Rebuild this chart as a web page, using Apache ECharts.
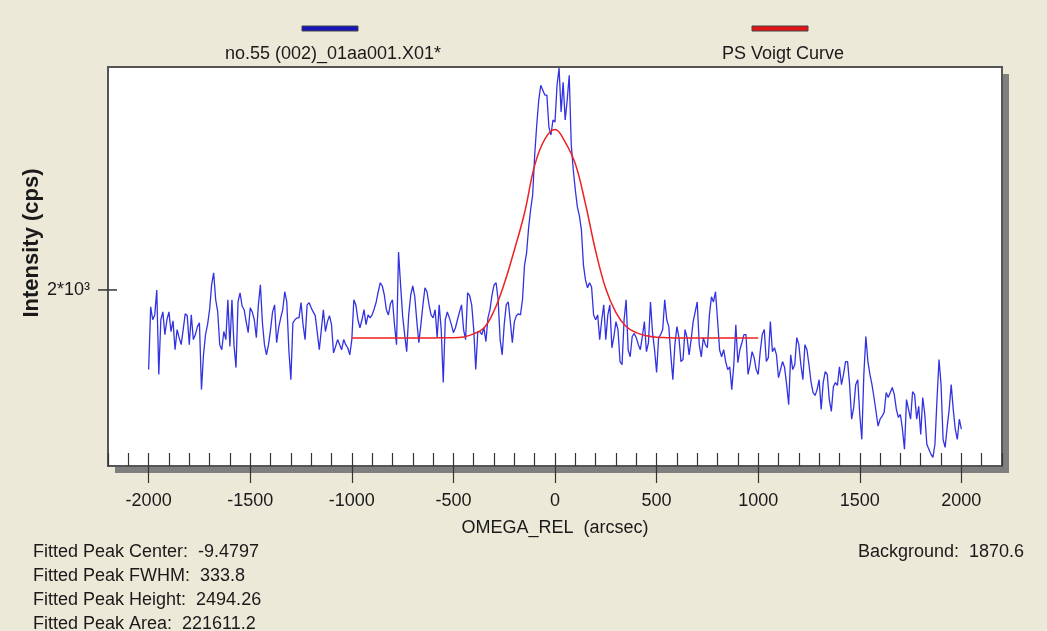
<!DOCTYPE html>
<html>
<head>
<meta charset="utf-8">
<script src="https://cdn.jsdelivr.net/npm/echarts@6/dist/echarts.min.js"></script>
<style>
  html, body { margin: 0; padding: 0; background: #ece9d8; }
  #chart { width: 1047px; height: 631px; }
</style>
</head>
<body>
<div id="chart"></div>
<script>
// measured scan, OMEGA_REL from -2000 to 2000 arcsec every 10
const scanStart = -2000, scanStep = 10;
const intensity = [
  1791,1954,1919,1932,2000,1779,1919,1940,1880,1919,1940,1888,1916,1841,1893,1872,1854,1893,1935,1930,
  1854,1932,1867,1880,1901,1911,1742,1828,1880,1906,1946,2014,2048,1973,1940,1854,1841,1888,1867,1973,
  1849,1973,1854,1796,1967,1992,1956,1946,1914,1885,1951,1940,1919,1872,1959,2014,1911,1854,1828,1854,
  1893,1940,1959,1859,1898,1924,1946,1995,1967,1841,1766,1911,1919,1924,1924,1965,1906,1867,1959,1965,
  1951,1940,1930,1885,1841,1893,1946,1888,1914,1930,1906,1833,1849,1867,1854,1841,1867,1854,1846,1828,
  1867,1973,1959,1919,1898,1919,1946,1906,1932,1924,1932,1948,1967,1995,2020,2011,1986,1946,1932,1962,
  1973,1906,1854,2108,2014,1930,1880,1836,1932,1986,2011,1981,1914,1859,1906,1959,2006,1995,1959,1932,
  1924,1946,1872,1959,1893,1759,1919,1940,1924,1906,1885,1898,1919,1940,1959,1893,1867,1992,1984,1959,
  1893,1791,1888,1888,1880,1898,1862,1924,1946,1986,2014,2020,1973,1867,1828,1906,1959,1967,1914,1859,
  1914,1930,1935,1932,1973,2070,2105,2179,2235,2281,2411,2513,2602,2656,2638,2620,2620,2506,2479,2531,
  2524,2656,2720,2559,2667,2531,2602,2693,2445,2362,2297,2244,2216,2173,2070,2028,2006,2020,2008,1932,
  1919,1932,1867,1919,1959,1867,1932,1959,1846,1875,1914,1893,1811,1803,1919,1973,1841,1823,1875,1883,
  1872,1854,1841,1875,1914,1836,1859,1967,1885,1841,1784,1872,1880,1893,1973,1919,1901,1828,1766,1854,
  1901,1872,1811,1816,1893,1872,1828,1867,1914,1940,1967,1854,1823,1872,1854,1846,1932,1981,1967,1995,
  1919,1841,1823,1841,1811,1791,1798,1742,1803,1906,1808,1841,1859,1880,1880,1779,1803,1836,1821,1791,
  1779,1836,1880,1893,1811,1821,1914,1836,1846,1828,1771,1791,1811,1796,1754,1706,1828,1791,1803,1872,
  1854,1803,1766,1854,1841,1803,1761,1735,1728,1742,1766,1695,1759,1786,1779,1718,1690,1749,1759,1752,
  1798,1754,1779,1811,1811,1754,1672,1699,1754,1766,1683,1626,1779,1875,1811,1779,1754,1723,1690,1656,
  1672,1679,1688,1735,1723,1735,1747,1730,1695,1676,1683,1649,1604,1718,1695,1672,1737,1730,1672,1702,
  1637,1723,1683,1615,1604,1593,1586,1615,1718,1816,1754,1626,1608,1653,1695,1754,1695,1649,1626,1672,
  1649
];

// fitted curve, -1000 to 1000 every 50
const fitStart = -1000, fitStep = 50;
const fitCurve = [
  1871,1871,1871,1871,1871,1871,1871,1871,1871,1872,
  1872,1874,1882,1897,1943,2017,2114,2225,2377,2465,
  2498,2455,2382,2253,2111,2003,1938,1901,1885,1877,
  1873,1872,1871,1871,1871,1871,1871,1871,1871,1871,1871
];

const xTicks = [-2000, -1500, -1000, -500, 0, 500, 1000, 1500, 2000];
const yTickValue = 2000;
const yTickLabel = '2*10³';
const seriesNames = ['no.55 (002)_01aa001.X01*', 'PS Voigt Curve'];
const seriesColors = ['#3232e2', '#ee2222'];
const swatchColors = ['#1616b8', '#e01414'];
const fitStats = [
  'Fitted Peak Center:  -9.4797',
  'Fitted Peak FWHM:  333.8',
  'Fitted Peak Height:  2494.26',
  'Fitted Peak Area:  221611.2'
];
const backgroundText = 'Background:  1870.6';

const FONT = '"Liberation Sans", Arial, sans-serif';
const TEXT = '#1a1a1a';
const GRID = { left: 108, top: 67, width: 894, height: 399 };

const scanData = intensity.map((v, i) => [scanStart + i * scanStep, v]);
const fitData = fitCurve.map((v, i) => [fitStart + i * fitStep, v]);

const chart = echarts.init(document.getElementById('chart'));

const legendGraphics = [];
[330, 780].forEach((cx, k) => {
  legendGraphics.push({
    type: 'rect',
    shape: { x: cx - 28, y: 26, width: 56, height: 5 },
    style: { fill: swatchColors[k], stroke: '#444', lineWidth: 1 }
  });
  legendGraphics.push({
    type: 'text',
    x: cx + 3, y: 54,
    style: { text: seriesNames[k], fill: TEXT, fontSize: 18, fontFamily: FONT, align: 'center', verticalAlign: 'middle' }
  });
});

const statGraphics = fitStats.map((t, i) => ({
  type: 'text',
  x: 33, y: 552 + i * 24,
  style: { text: t, fill: TEXT, fontSize: 18, fontFamily: FONT, align: 'left', verticalAlign: 'middle' }
}));

const option = {
  animation: false,
  backgroundColor: '#ece9d8',
  grid: {
    left: GRID.left, top: GRID.top, width: GRID.width, height: GRID.height,
    outerBoundsMode: 'none',
    show: true,
    backgroundColor: '#ffffff',
    borderColor: '#555555',
    borderWidth: 2
  },
  xAxis: [
    {
      type: 'value', position: 'bottom',
      min: -2200, max: 2200, interval: 100,
      axisLine: { show: false },
      axisTick: { show: true, inside: true, length: 13, lineStyle: { color: '#333', width: 1.2 } },
      axisLabel: { show: false },
      splitLine: { show: false }
    },
    {
      type: 'value', position: 'bottom',
      min: -2200, max: 2200,
      axisLine: { show: false },
      axisTick: { show: true, customValues: xTicks, length: 17, lineStyle: { color: '#333', width: 1.2 } },
      axisLabel: {
        customValues: xTicks, margin: 26, fontSize: 18, fontFamily: FONT, color: TEXT,
        formatter: v => String(v)
      },
      splitLine: { show: false },
      name: 'OMEGA_REL  (arcsec)',
      nameLocation: 'middle',
      nameGap: 53,
      nameTextStyle: { fontSize: 18, fontFamily: FONT, color: TEXT }
    }
  ],
  yAxis: {
    type: 'log', logBase: 10,
    min: 1567, max: 2724,
    axisLine: { show: false },
    axisTick: { show: false },
    axisLabel: { show: false },
    splitLine: { show: false }
  },
  series: [
    {
      name: seriesNames[0], type: 'line', data: scanData,
      showSymbol: false, lineStyle: { color: seriesColors[0], width: 1.3 }, z: 2
    },
    {
      name: seriesNames[1], type: 'line', data: fitData, smooth: 0.4,
      showSymbol: false, lineStyle: { color: seriesColors[1], width: 1.5 }, z: 3
    }
  ]
};
chart.setOption(option);

const yTickY = chart.convertToPixel({ yAxisIndex: 0 }, yTickValue);

chart.setOption({
  graphic: [
    {
      // drop shadow behind the plot frame
      type: 'rect', z: -10,
      shape: { x: GRID.left + 7, y: GRID.top + 7, width: GRID.width, height: GRID.height },
      style: { fill: '#7f7f7f' }
    },
    ...legendGraphics,
    {
      type: 'line',
      shape: { x1: 98, y1: yTickY, x2: 117, y2: yTickY },
      style: { stroke: '#333', lineWidth: 1.5 }
    },
    {
      type: 'text',
      x: 90, y: yTickY,
      style: { text: yTickLabel, fill: TEXT, fontSize: 18, fontFamily: FONT, align: 'right', verticalAlign: 'middle' }
    },
    {
      type: 'text',
      x: 32, y: 243, rotation: Math.PI / 2,
      style: { text: 'Intensity (cps)', fill: TEXT, fontSize: 22, fontWeight: 'bold', fontFamily: FONT, align: 'center', verticalAlign: 'middle' }
    },
    ...statGraphics,
    {
      type: 'text',
      x: 1024, y: 552,
      style: { text: backgroundText, fill: TEXT, fontSize: 18, fontFamily: FONT, align: 'right', verticalAlign: 'middle' }
    }
  ]
});
</script>
</body>
</html>
